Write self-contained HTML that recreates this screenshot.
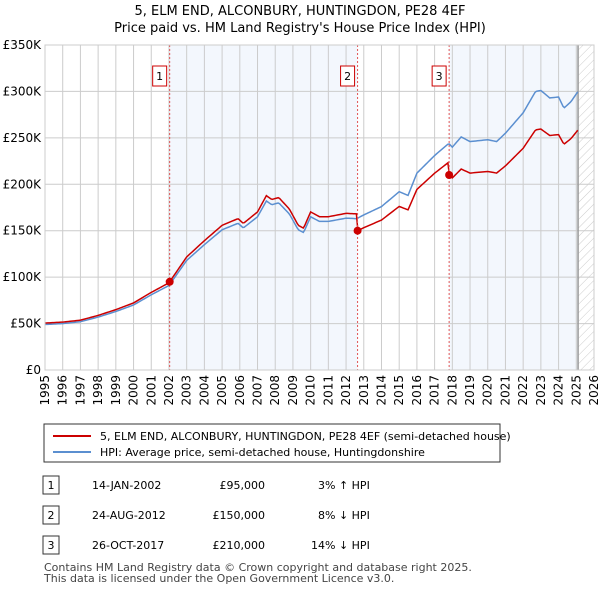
<!DOCTYPE html>
<html><head><meta charset="utf-8"><style>
body{margin:0;background:#fff;font-family:"DejaVu Sans","Liberation Sans",sans-serif;}
svg text{font-family:"DejaVu Sans","Liberation Sans",sans-serif;}
</style></head><body>
<svg id="chart" width="600" height="590" viewBox="0 0 600 590" xmlns="http://www.w3.org/2000/svg">
<defs><pattern id="hatch" width="6" height="6" patternUnits="userSpaceOnUse" patternTransform="rotate(45)"><line x1="0" y1="0" x2="0" y2="6" stroke="#ccc" stroke-width="1"/></pattern></defs>
<text x="300" y="15" text-anchor="middle" font-size="13">5, ELM END, ALCONBURY, HUNTINGDON, PE28 4EF</text>
<text x="300" y="32" text-anchor="middle" font-size="13">Price paid vs. HM Land Registry's House Price Index (HPI)</text>
<g id="plot"></g>
<g>
<rect x="44" y="424" width="456" height="38" fill="#fff" stroke="#333" stroke-width="1"/>
<line x1="53" y1="436" x2="91" y2="436" stroke="#cc0000" stroke-width="2"/>
<text x="100" y="440" font-size="11">5, ELM END, ALCONBURY, HUNTINGDON, PE28 4EF (semi-detached house)</text>
<line x1="53" y1="452" x2="91" y2="452" stroke="#5b8fd0" stroke-width="2"/>
<text x="100" y="456" font-size="11">HPI: Average price, semi-detached house, Huntingdonshire</text>
</g>
<g font-size="11">
<rect x="43" y="476" width="16" height="18" fill="#fff" stroke="#333"/><text x="51" y="489" text-anchor="middle">1</text>
<text x="92" y="489">14-JAN-2002</text><text x="265" y="489" text-anchor="end">£95,000</text><text x="318" y="489">3% ↑ HPI</text>
<rect x="43" y="506" width="16" height="18" fill="#fff" stroke="#333"/><text x="51" y="519" text-anchor="middle">2</text>
<text x="92" y="519">24-AUG-2012</text><text x="265" y="519" text-anchor="end">£150,000</text><text x="318" y="519">8% ↓ HPI</text>
<rect x="43" y="536" width="16" height="18" fill="#fff" stroke="#333"/><text x="51" y="549" text-anchor="middle">3</text>
<text x="92" y="549">26-OCT-2017</text><text x="265" y="549" text-anchor="end">£210,000</text><text x="311" y="549">14% ↓ HPI</text>
</g>
<text x="44" y="571" font-size="11" fill="#444">Contains HM Land Registry data © Crown copyright and database right 2025.</text>
<text x="44" y="582" font-size="11" fill="#444">This data is licensed under the Open Government Licence v3.0.</text>
</svg>
<script>
const hpiYears=[1995,1996,1997,1998,1999,2000,2001,2002,2003,2004,2005,2005.9,2006.2,2007,2007.5,2007.8,2008.2,2008.8,2009.3,2009.6,2010,2010.5,2011,2012,2012.6,2013,2014,2015,2015.5,2016,2017,2017.8,2018,2018.5,2019,2020,2020.5,2021,2022,2022.7,2023,2023.5,2024,2024.3,2024.7,2025.1];
const hpiValues=[49,50,52,57,63,70,81,91,118,135,151,158,153,165,182,178,180,168,151,148,165,160,160,163.5,163,167,176,192,188,212,231,244,240,251,246,248,246,255,277,300,301,293,294,282,289,300];
const saleYears=[2002.04,2012.65,2017.82];
const salePrices=[95,150,210];
const saleLabels=["1","2","3"];
const yTicks=[0,50,100,150,200,250,300,350];
const yTickLabels=["£0","£50K","£100K","£150K","£200K","£250K","£300K","£350K"];
const xTicks=[1995,1996,1997,1998,1999,2000,2001,2002,2003,2004,2005,2006,2007,2008,2009,2010,2011,2012,2013,2014,2015,2016,2017,2018,2019,2020,2021,2022,2023,2024,2025,2026];
const dataEnd=2025.1;

const X0=45,X1=594,Y0=370,Y1=45;
const xs=y=>X0+(y-1995)/(2026-1995)*(X1-X0);
const ys=v=>Y0-v/350*(Y0-Y1);
const NS="http://www.w3.org/2000/svg";
const g=document.getElementById('plot');
function el(t,a){const e=document.createElementNS(NS,t);for(const k in a)e.setAttribute(k,a[k]);g.appendChild(e);return e;}
function hpiAt(t){for(let i=0;i<hpiYears.length-1;i++){if(t<=hpiYears[i+1]){const f=(t-hpiYears[i])/(hpiYears[i+1]-hpiYears[i]);return hpiValues[i]+f*(hpiValues[i+1]-hpiValues[i]);}}return hpiValues[hpiValues.length-1];}

// shading
let s=el('rect',{x:xs(saleYears[0]),y:Y1,width:xs(saleYears[1])-xs(saleYears[0]),height:Y0-Y1,fill:'#eef3fc',opacity:0.7});

s=el('rect',{x:xs(saleYears[2]),y:Y1,width:xs(dataEnd)-xs(saleYears[2]),height:Y0-Y1,fill:'#eef3fc',opacity:0.7});

s=el('rect',{x:xs(dataEnd),y:Y1,width:X1-xs(dataEnd),height:Y0-Y1,fill:'url(#hatch)'});

// grid
yTicks.forEach((v,i)=>{let l=el('line',{x1:X0,x2:X1,y1:ys(v),y2:ys(v),stroke:'#ccc'});

let t=el('text',{x:X0-4,y:ys(v)+4,'text-anchor':'end','font-size':12});t.textContent=yTickLabels[i];
});
xTicks.forEach(y=>{let l=el('line',{x1:xs(y),x2:xs(y),y1:Y1,y2:Y0,stroke:'#ccc'});

let t=el('text',{x:0,y:0,'text-anchor':'end','font-size':12,transform:`translate(${xs(y)+4},${Y0+5}) rotate(-90)`});t.textContent=y;
});
let dl=el('line',{x1:xs(dataEnd),x2:xs(dataEnd),y1:Y1,y2:Y0,stroke:'#999','stroke-width':1.5});

// HPI line
const pts=[];for(let t=1995;t<=dataEnd+1e-9;t+=1/12)pts.push(t);
let hp=el('polyline',{points:pts.map(t=>xs(t)+','+ys(hpiAt(t))).join(' '),fill:'none',stroke:'#5b8fd0','stroke-width':1.5});

// property line: indexed from last sale
function ratioAt(t){let idx=0;for(let i=0;i<saleYears.length;i++)if(t>=saleYears[i])idx=i;return salePrices[idx]/hpiAt(saleYears[idx]);}
let rp=el('polyline',{points:pts.map(t=>xs(t)+','+ys(hpiAt(t)*ratioAt(t))).join(' '),fill:'none',stroke:'#cc0000','stroke-width':1.5});

// sales
saleYears.forEach((y,i)=>{
let l=el('line',{x1:xs(y),x2:xs(y),y1:Y1,y2:Y0,stroke:'#e05555','stroke-dasharray':'2,2'});

let c=el('circle',{cx:xs(y),cy:ys(salePrices[i]),r:4,fill:'#cc0000'});

let b=el('rect',{x:xs(y)-17,y:66,width:14,height:20,fill:'#fff',stroke:'#cc0000'});

let t=el('text',{x:xs(y)-10,y:80,'text-anchor':'middle','font-size':11});t.textContent=saleLabels[i];
});
let fr=el('rect',{x:X0,y:Y1,width:X1-X0,height:Y0-Y1,fill:'none',stroke:'#ccc'});

</script>
</body></html>
